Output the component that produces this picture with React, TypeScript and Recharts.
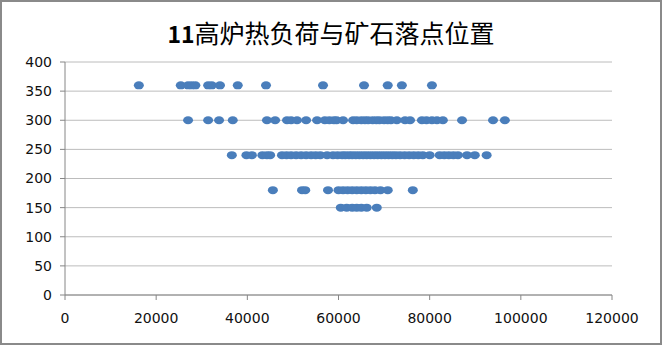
import { ScatterChart, Scatter, XAxis, YAxis, CartesianGrid } from "recharts";

const title = "11高炉热负荷与矿石落点位置";

const xTicks = [0, 20000, 40000, 60000, 80000, 100000, 120000];
const yTicks = [0, 50, 100, 150, 200, 250, 300, 350, 400];

// heat load readings for each ore drop position
const load360 = [16200, 25400, 27000, 27800, 28600, 31400, 32200, 34000, 37900, 44100, 56600, 65600, 70800, 73900, 80500];
const load300 = [
  27000, 31400, 33800, 36800, 44300, 46100, 48700, 49600, 50900, 52900, 55300, 57000, 58000, 59000, 59600, 61000,
  63200, 64000, 65000, 65800, 66500, 67500, 68300, 69000, 70000, 70800, 71500, 72800, 74600, 75700, 78300, 79300,
  80500, 81600, 82900, 87100, 93900, 96500,
];
const load240 = [
  36600, 39800, 41000, 43300, 44300, 45000, 47600, 48600, 49600, 50700, 51800, 52900, 54000, 55000, 56000, 57500,
  58800, 59800, 60800, 61500, 62300, 63000, 63800, 64600, 65400, 66200, 67000, 67800, 68600, 69400, 70200, 71000,
  71800, 72600, 73500, 74500, 75500, 76500, 77500, 78500, 80000, 82200, 83200, 84200, 85200, 86200, 88200, 89900,
  92500,
];
const load180 = [45600, 52000, 52700, 57700, 60000, 61000, 62000, 63000, 64000, 65000, 66000, 67000, 68000, 69200, 70800, 76300];
const load150 = [60500, 61800, 63000, 64000, 65000, 66200, 68400];

const rows: [number, number[]][] = [
  [360, load360],
  [300, load300],
  [240, load240],
  [180, load180],
  [150, load150],
];

const points = rows.flatMap(([pos, loads]) => loads.map((x) => ({ x, y: pos })));

const Dot = (props: any) => <ellipse cx={props.cx} cy={props.cy} rx={5} ry={4} fill="#4a7ebb" />;

export default function App() {
  return (
    <div style={{ position: "fixed", left: 0, top: 0, width: 662, height: 345, background: "#fff" }}>
      <div
        style={{
          position: "absolute",
          left: 0,
          top: 15,
          width: 662,
          textAlign: "center",
          fontFamily: "'Noto Sans CJK SC', sans-serif",
          fontSize: 25,
          lineHeight: "34px",
          color: "#000",
        }}
      >
        <span style={{ fontWeight: "bold", fontSize: 23 }}>11</span>
        {title.slice(2)}
      </div>
      <ScatterChart width={662} height={345} margin={{ top: 62, right: 50, left: 0, bottom: 0 }}>
        <CartesianGrid vertical={false} stroke="#bcbcbc" />
        <XAxis
          type="number"
          dataKey="x"
          domain={[0, 120000]}
          ticks={xTicks}
          height={50}
          stroke="#868686"
          tickSize={5}
          tick={{ fill: "#111", fontSize: 14, fontFamily: "DejaVu Sans" }}
          tickMargin={13}
        />
        <YAxis
          type="number"
          dataKey="y"
          domain={[0, 400]}
          ticks={yTicks}
          width={65}
          stroke="#868686"
          tickSize={5}
          tick={{ fill: "#111", fontSize: 14, fontFamily: "DejaVu Sans" }}
          tickMargin={8}
        />
        <Scatter data={points} shape={Dot} isAnimationActive={false} />
      </ScatterChart>
      <div
        style={{
          position: "absolute",
          left: 0,
          top: 0,
          width: 662,
          height: 345,
          boxSizing: "border-box",
          border: "2px solid #8a8a8a",
          pointerEvents: "none",
        }}
      />
    </div>
  );
}
